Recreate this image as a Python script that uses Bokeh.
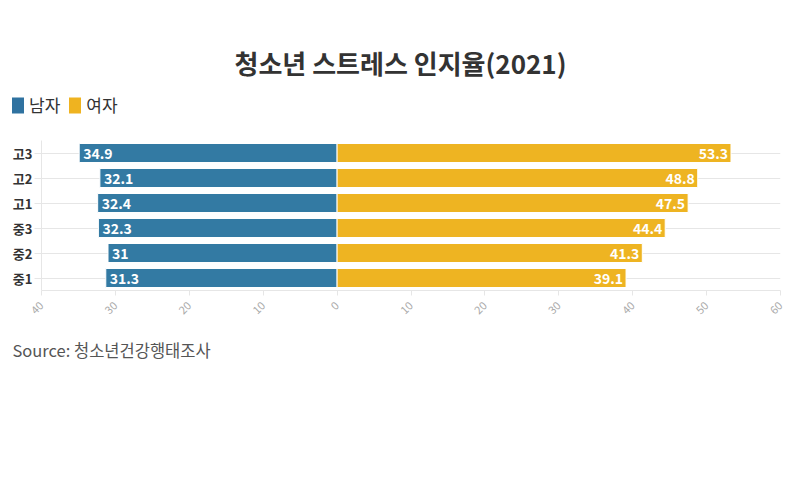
from math import pi
from bokeh.plotting import figure
from bokeh.layouts import column
from bokeh.models import (ColumnDataSource, FactorRange, Range1d, Label, Legend, LegendItem,
                          FixedTicker)
from bokeh.core.properties import value
from bokeh.embed import file_html
from bokeh.resources import INLINE

categories = ["고3", "고2", "고1", "중3", "중2", "중1"]
male = [34.9, 32.1, 32.4, 32.3, 31, 31.3]
female = [53.3, 48.8, 47.5, 44.4, 41.3, 39.1]
x_ticks = [-40, -30, -20, -10, 0, 10, 20, 30, 40, 50, 60]
x_tick_labels = ["40", "30", "20", "10", "0", "10", "20", "30", "40", "50", "60"]
series_names = ["남자", "여자"]

FONT = "Noto Sans CJK KR"
MALE_C = "#337aa3"
FEMALE_C = "#eeb422"
W = 784

src = ColumnDataSource(dict(
    cat=categories,
    male_neg=[-v for v in male],
    female=female,
    male_txt=[f"{v:g}" for v in male],
    female_txt=[f"{v:g}" for v in female],
    zero=[0] * len(categories),
))


def blank(height):
    f = figure(width=W, height=height, output_backend="svg", toolbar_location=None,
               x_range=Range1d(0, W), y_range=Range1d(height, 0),
               x_axis_type=None, y_axis_type=None, min_border=0)
    f.outline_line_color = None
    f.frame_align = False
    return f


# ---------- header: title + legend ----------
head = blank(132)
head.add_layout(Label(x=400, y=62, text="청소년 스트레스 인지율(2021)",
                      text_align="center", text_baseline="middle",
                      text_font=FONT, text_font_style="bold", text_font_size="26px",
                      text_color="#333333"))
# zero-width legend-only renderers (nothing visible is drawn)
lm = head.hbar(y="zero", left="zero", right="zero", height=0, source=src,
               fill_color="#2f72a0", line_color=None)
lf = head.hbar(y="zero", left="zero", right="zero", height=0, source=src,
               fill_color="#efb320", line_color=None)
legend = Legend(items=[LegendItem(label=series_names[0], renderers=[lm]),
                       LegendItem(label=series_names[1], renderers=[lf])],
                orientation="horizontal", location=(10, 15),
                glyph_width=15, glyph_height=20, label_text_font=FONT,
                label_text_font_size="17px", label_text_color="#333333",
                label_standoff=4, spacing=7, padding=0, margin=0,
                border_line_color=None, background_fill_alpha=0)
head.add_layout(legend)

# ---------- main chart ----------
p = figure(width=W, height=198, output_backend="svg", toolbar_location=None,
           y_range=FactorRange(factors=list(reversed(categories))),
           x_range=Range1d(-40, 60),
           min_border_left=41, min_border_right=4, min_border_top=8, min_border_bottom=40)
p.outline_line_color = None

p.hbar(y="cat", left="male_neg", right="zero", height=0.76, source=src,
       fill_color=MALE_C, line_color="white", line_width=1)
p.hbar(y="cat", left="zero", right="female", height=0.76, source=src,
       fill_color=FEMALE_C, line_color="white", line_width=1)

p.text(x="male_neg", y="cat", text="male_txt", source=src, x_offset=4,
       text_align="left", text_baseline="middle", text_color="white",
       text_font=value(FONT), text_font_style="bold", text_font_size="14px")
p.text(x="female", y="cat", text="female_txt", source=src, x_offset=-3,
       text_align="right", text_baseline="middle", text_color="white",
       text_font=value(FONT), text_font_style="bold", text_font_size="14px")

p.xgrid.grid_line_color = None
p.ygrid.grid_line_color = "#e6e6e6"
p.xaxis.ticker = FixedTicker(ticks=x_ticks)
p.xaxis.major_label_overrides = {t: l for t, l in zip(x_ticks, x_tick_labels)}
p.xaxis.major_label_orientation = pi / 4
p.xaxis.major_label_text_color = "#aaaaaa"
p.xaxis.major_label_text_font = FONT
p.xaxis.major_label_text_font_size = "11px"
p.xaxis.axis_line_color = "#e6e6e6"
p.xaxis.major_tick_line_color = "#e6e6e6"
p.xaxis.major_tick_out = 5
p.xaxis.major_tick_in = 0
p.xaxis.minor_tick_line_color = None
p.xaxis.major_label_standoff = 8

p.yaxis.axis_line_color = "#e6e6e6"
p.yaxis.major_tick_line_color = "#e6e6e6"
p.yaxis.major_tick_out = 7
p.yaxis.major_tick_in = 0
p.yaxis.major_label_text_font = FONT
p.yaxis.major_label_text_font_style = "bold"
p.yaxis.major_label_text_font_size = "13px"
p.yaxis.major_label_text_color = "#333333"
p.yaxis.major_label_standoff = 2

# ---------- footer: source ----------
foot = blank(40)
foot.add_layout(Label(x=12, y=19, text="Source: 청소년건강행태조사",
                      text_align="left", text_baseline="middle",
                      text_font=FONT, text_font_size="16.5px", text_color="#555555"))

layout = column(head, p, foot, spacing=0)
open("out.html", "w").write(file_html(layout, INLINE))
